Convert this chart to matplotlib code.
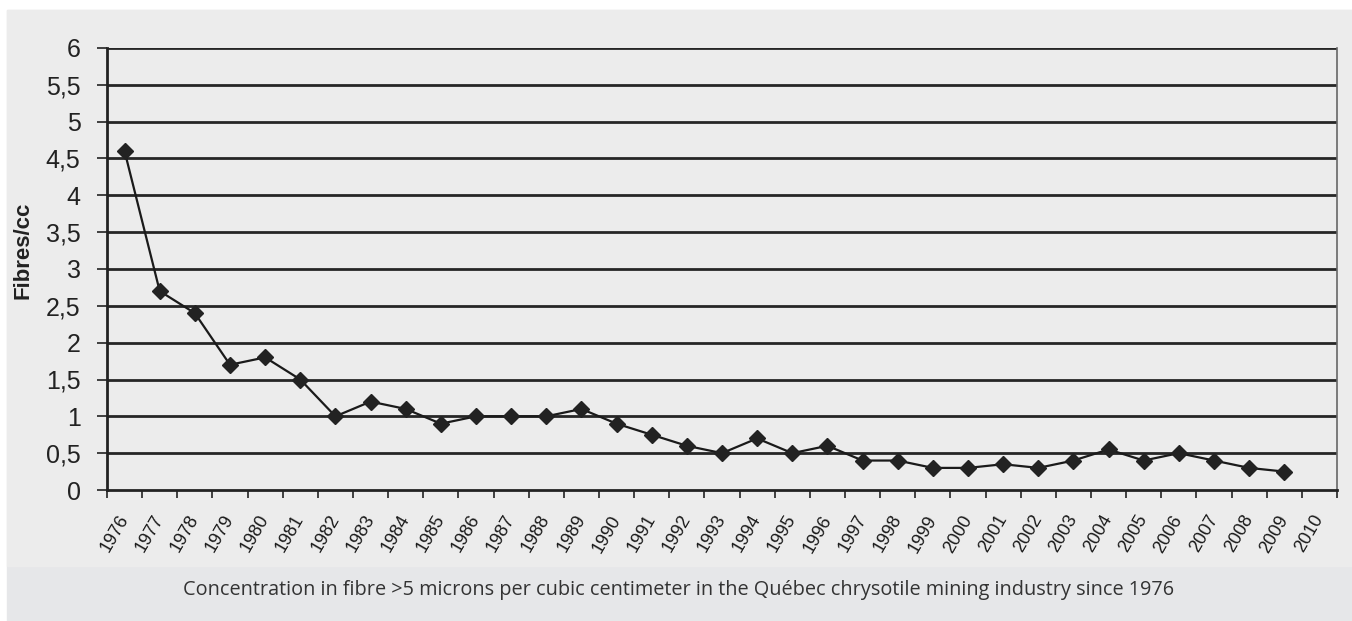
import numpy as np
import matplotlib.pyplot as plt
from matplotlib.patches import Rectangle

years = [str(y) for y in range(1976, 2011)]
fibres = [4.6, 2.7, 2.4, 1.7, 1.8, 1.5, 1.0, 1.2, 1.1, 0.9,
          1.0, 1.0, 1.0, 1.1, 0.9, 0.75, 0.6, 0.5, 0.7, 0.5,
          0.6, 0.4, 0.4, 0.3, 0.3, 0.35, 0.3, 0.4, 0.55, 0.4,
          0.5, 0.4, 0.3, 0.25]
y_ticks = [0, 0.5, 1, 1.5, 2, 2.5, 3, 3.5, 4, 4.5, 5, 5.5, 6]
y_labels = [f"{v:g}".replace(".", ",") for v in y_ticks]
caption = "Concentration in fibre >5 microns per cubic centimeter in the Québec chrysotile mining industry since 1976"

W, H = 1352, 621
fig = plt.figure(figsize=(W / 100, H / 100), dpi=100)
fig.patch.set_facecolor("white")

# grey panel behind everything, lighter block for the chart itself
fig.add_artist(Rectangle((7 / W, 0), 1 - 7 / W, 1 - 10 / H,
                         transform=fig.transFigure, color="#e6e7e9", zorder=-10))
fig.add_artist(Rectangle((7 / W, (H - 566) / H), 1 - 7 / W, (566 - 10) / H,
                         transform=fig.transFigure, color="#ececec", zorder=-9))

ax = fig.add_axes([107 / W, (H - 490) / H, (1337 - 107) / W, (490 - 48) / H])
ax.patch.set_alpha(0)

x = np.arange(len(fibres))
ax.plot(x, fibres, color="#1a1a1a", linewidth=1.6, marker="D", markersize=8,
        markerfacecolor="#222222", markeredgecolor="#222222", zorder=3)

ax.set_xlim(-0.5, len(years) - 0.5)
ax.set_ylim(0, 6)
ax.set_yticks(y_ticks)
ax.set_yticklabels(y_labels, fontsize=18, family="Liberation Sans", color="#222222")
for v in y_ticks[1:]:
    ax.axhline(v, color="#262626", linewidth=2, zorder=1)

ax.set_xticks(np.arange(len(years)))
ax.set_xticklabels(years, rotation=60, ha="right", va="center", rotation_mode="anchor",
                   fontsize=13, family="Liberation Sans", color="#1a1a1a")
ax.tick_params(axis="x", length=0, pad=19)
ax.set_xticks(np.arange(-0.5, len(years)), minor=True)
ax.tick_params(axis="x", which="minor", length=6, width=1.2, direction="out", color="#222222")
ax.tick_params(axis="y", length=7, width=1.2, direction="out", color="#222222", pad=12)

for side in ["left", "bottom"]:
    ax.spines[side].set_linewidth(2)
    ax.spines[side].set_color("#222222")
ax.spines["right"].set_color("#666666")
ax.spines["right"].set_linewidth(1.2)
ax.spines["top"].set_visible(False)

fig.text(23 / W, 1 - 250 / H, "Fibres/cc", rotation=90, ha="center", va="center",
         fontsize=16, fontweight="bold", family="Liberation Sans", color="#222222")
fig.text(679 / W, 1 - 590 / H, caption, ha="center", va="center",
         fontsize=14.3, family="Open Sans", color="#333333")

fig.savefig("out.png", dpi=100, facecolor=fig.get_facecolor())
